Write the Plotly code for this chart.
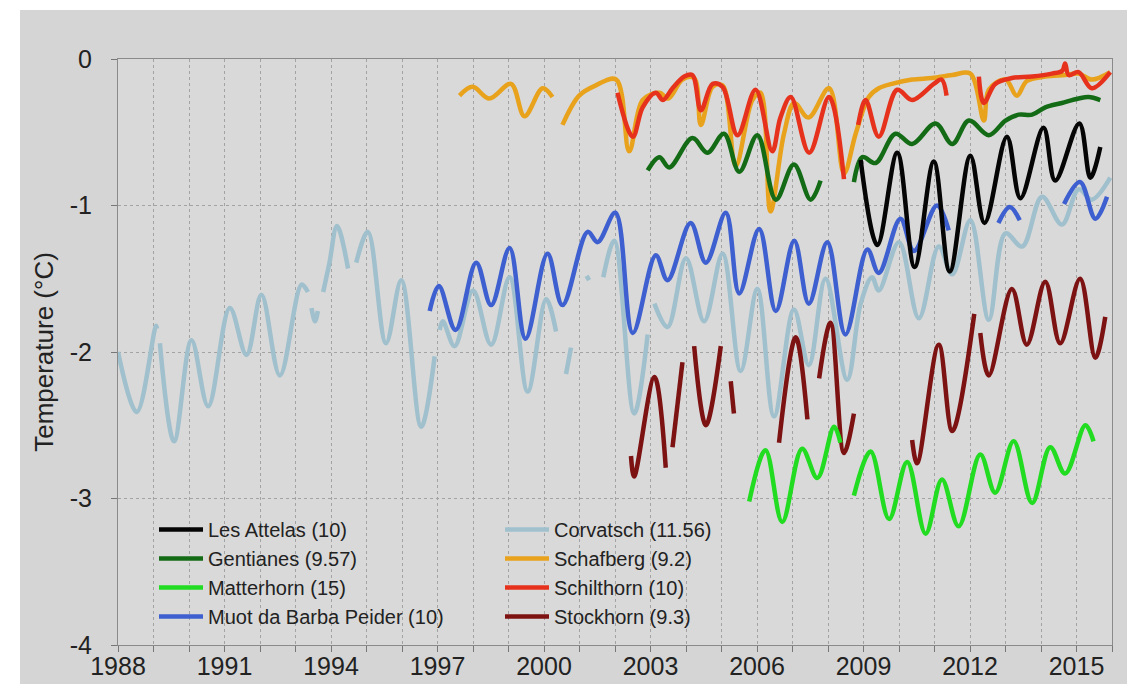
import plotly.graph_objects as go

# ---------------- data (year, temperature °C); None = gap ----------------
corvatsch_x = [1988.0, 1988.53, 1989.07, 1989.1, None,
               1989.18, 1989.58, 1990.07, 1990.54, 1991.15, 1991.62, 1992.04, 1992.56, 1993.17, 1993.35, None,
               1993.45, 1993.55, 1993.63, None,
               1993.78, 1993.95, 1994.17, 1994.48, None,
               1994.71, 1995.04, 1995.55, 1995.98, 1996.54, 1996.92, None,
               1997.06, 1997.15, 1997.48, 1998.0, 1998.51, 1999.03, 1999.54, 2000.06, 2000.34, None,
               2000.62, 2000.76, None,
               2001.2, 2001.27, None,
               2001.67, 2001.98, 2002.54, 2002.92, None,
               2003.11, 2003.48, 2004.0, 2004.51, 2005.03, 2005.54, 2006.01, 2006.48, 2007.04, 2007.46,
               2007.93, 2008.54, 2008.92, 2009.24, 2009.43, 2010.0, 2010.56, 2011.12, 2011.5, 2012.01,
               2012.53, 2013.0, 2013.47, 2014.03, 2014.59, 2015.06, 2015.43, 2015.95]
corvatsch_y = [-2.00, -2.41, -1.82, -1.84, None,
               -1.94, -2.61, -1.92, -2.37, -1.70, -2.02, -1.61, -2.16, -1.54, -1.59, None,
               -1.70, -1.79, -1.72, None,
               -1.59, -1.40, -1.14, -1.43, None,
               -1.39, -1.18, -1.94, -1.51, -2.51, -2.03, None,
               -1.85, -1.79, -1.96, -1.58, -1.95, -1.49, -2.27, -1.64, -1.86, None,
               -2.15, -1.97, None,
               -1.48, -1.51, None,
               -1.49, -1.24, -2.42, -1.88, None,
               -1.67, -1.83, -1.36, -1.79, -1.33, -2.13, -1.57, -2.44, -1.71, -2.09,
               -1.50, -2.19, -1.67, -1.49, -1.58, -1.25, -1.77, -1.28, -1.47, -1.10,
               -1.78, -1.19, -1.28, -0.94, -1.13, -0.89, -0.96, -0.81]

muot_x = [1996.78, 1997.04, 1997.51, 1998.09, 1998.51, 1999.03, 1999.48, 2000.10, 2000.52, 2001.23,
          2001.51, 2002.01, 2002.5, 2003.15, 2003.48, 2004.13, 2004.56, 2005.12, 2005.5, 2006.06,
          2006.53, 2007.05, 2007.46, 2007.98, 2008.49, 2009.11, 2009.43, 2010.04, 2010.42, 2011.07,
          2011.4, None,
          2012.8, 2013.12, 2013.4, None,
          2014.65, 2015.1, 2015.53, 2015.86]
muot_y = [-1.72, -1.55, -1.85, -1.39, -1.68, -1.29, -1.91, -1.33, -1.68, -1.18,
          -1.25, -1.05, -1.87, -1.34, -1.51, -1.12, -1.39, -1.05, -1.60, -1.16,
          -1.72, -1.24, -1.67, -1.25, -1.88, -1.30, -1.46, -1.09, -1.31, -1.00,
          -1.17, None,
          -1.12, -1.01, -1.10, None,
          -0.99, -0.84, -1.09, -0.94]

schafberg_x = [1997.62, 1997.99, 1998.46, 1999.07, 1999.45, 1999.96, 2000.24, None,
               2000.52, 2000.99, 2001.46, 2002.03, 2002.40, 2002.78, 2003.25, 2003.5, 2003.9, 2004.23,
               2004.42, 2004.75, 2005.03, 2005.4, 2005.87, 2006.1, 2006.38, 2006.76, 2007.05, 2007.45,
               2008.03, 2008.45, 2008.78, 2009.15, 2009.43, 2009.8, 2010.37, 2010.93, 2011.5, 2012.01,
               2012.39, 2012.53, 2013.0, 2013.32, 2013.6, 2014.12, 2014.68, 2015.06, 2015.43, 2015.95]
schafberg_y = [-0.25, -0.19, -0.27, -0.17, -0.39, -0.20, -0.26, None,
               -0.45, -0.25, -0.18, -0.14, -0.63, -0.28, -0.23, -0.27, -0.14, -0.13,
               -0.45, -0.19, -0.18, -0.73, -0.28, -0.23, -1.04, -0.51, -0.30, -0.40,
               -0.20, -0.78, -0.51, -0.26, -0.20, -0.17, -0.14, -0.13, -0.11, -0.10,
               -0.42, -0.21, -0.14, -0.25, -0.15, -0.12, -0.11, -0.10, -0.14, -0.09]

schilthorn_x = [2002.07, 2002.50, 2002.78, 2003.15, 2003.35, 2003.62, 2003.95, 2004.18, 2004.42, 2004.75,
                2005.03, 2005.45, 2005.96, 2006.43, 2006.66, 2006.95, 2007.47, 2008.03, 2008.45, None,
                2008.85, 2009.06, 2009.43, 2009.95, 2010.37, 2010.98, 2011.2, 2011.34, None,
                2012.25, 2012.39, 2012.71, 2013.18, 2013.75, 2014.31, 2014.6, 2014.68, 2014.78, 2015.06,
                2015.43, 2015.95]
schilthorn_y = [-0.23, -0.53, -0.33, -0.23, -0.28, -0.20, -0.12, -0.11, -0.35, -0.17,
                -0.19, -0.52, -0.21, -0.63, -0.40, -0.26, -0.64, -0.26, -0.82, None,
                -0.45, -0.28, -0.53, -0.21, -0.28, -0.17, -0.14, -0.25, None,
                -0.12, -0.30, -0.17, -0.13, -0.12, -0.10, -0.08, -0.03, -0.11, -0.09,
                -0.20, -0.09]

gentianes_x = [2002.92, 2003.25, 2003.53, 2004.18, 2004.6, 2005.07, 2005.5, 2006.01, 2006.53, 2007.04,
               2007.51, 2007.79, None,
               2008.73, 2008.97, 2009.34, 2009.9, 2010.37, 2011.03, 2011.5, 2011.97, 2012.53, 2013.0,
               2013.37, 2013.75, 2014.12, 2014.59, 2015.06, 2015.34, 2015.67]
gentianes_y = [-0.76, -0.67, -0.74, -0.54, -0.64, -0.51, -0.77, -0.52, -0.96, -0.72,
               -0.96, -0.83, None,
               -0.84, -0.67, -0.71, -0.51, -0.58, -0.44, -0.58, -0.42, -0.52, -0.42,
               -0.38, -0.38, -0.33, -0.30, -0.27, -0.26, -0.28]

attelas_x = [2008.92, 2009.39, 2009.95, 2010.44, 2010.98, 2011.43, 2012.01, 2012.41, 2013.04, 2013.42,
             2014.07, 2014.4, 2015.08, 2015.39, 2015.67]
attelas_y = [-0.69, -1.27, -0.64, -1.42, -0.70, -1.45, -0.66, -1.12, -0.53, -0.95,
             -0.47, -0.83, -0.44, -0.81, -0.60]

stockhorn_x = [2002.45, 2002.54, 2003.11, 2003.43, None,
               2003.62, 2003.9, None,
               2004.23, 2004.56, 2004.98, None,
               2005.26, 2005.35, None,
               2006.62, 2007.09, 2007.42, None,
               2007.75, 2008.07, 2008.45, 2008.73, None,
               2010.37, 2010.51, 2011.12, 2011.5, 2012.12, None,
               2012.29, 2012.53, 2013.18, 2013.6, 2014.12, 2014.54, 2015.1, 2015.53, 2015.81]
stockhorn_y = [-2.71, -2.85, -2.17, -2.79, None,
               -2.65, -2.07, None,
               -1.96, -2.50, -1.96, None,
               -2.20, -2.42, None,
               -2.62, -1.90, -2.46, None,
               -2.18, -1.80, -2.69, -2.42, None,
               -2.60, -2.76, -1.95, -2.54, -1.74, None,
               -1.87, -2.16, -1.57, -1.95, -1.52, -1.94, -1.50, -2.04, -1.76]

matterhorn_x = [2005.78, 2006.24, 2006.71, 2007.27, 2007.70, 2008.17, 2008.35, None,
                2008.73, 2009.2, 2009.72, 2010.23, 2010.75, 2011.21, 2011.68, 2012.29, 2012.71, 2013.23,
                2013.75, 2014.26, 2014.68, 2015.25, 2015.48]
matterhorn_y = [-3.02, -2.67, -3.16, -2.66, -2.86, -2.51, -2.62, None,
                -2.98, -2.68, -3.14, -2.75, -3.24, -2.87, -3.19, -2.70, -2.96, -2.61,
                -3.03, -2.65, -2.83, -2.50, -2.61]

x_tick_years = [1988, 1991, 1994, 1997, 2000, 2003, 2006, 2009, 2012, 2015]
y_ticks = [-4, -3, -2, -1, 0]

# (name, x, y, colour, legend, rank) -- drawing order
series = [
    ("Corvatsch (11.56)", corvatsch_x, corvatsch_y, "#9fc0cc", "legend2", 1),
    ("Muot da Barba Peider (10)", muot_x, muot_y, "#3d5fcf", "legend", 4),
    ("Schafberg (9.2)", schafberg_x, schafberg_y, "#e8a21c", "legend2", 2),
    ("Schilthorn (10)", schilthorn_x, schilthorn_y, "#e6321c", "legend2", 3),
    ("Gentianes (9.57)", gentianes_x, gentianes_y, "#136b16", "legend", 2),
    ("Les Attelas (10)", attelas_x, attelas_y, "#050505", "legend", 1),
    ("Stockhorn (9.3)", stockhorn_x, stockhorn_y, "#7c1212", "legend2", 4),
    ("Matterhorn (15)", matterhorn_x, matterhorn_y, "#22dc22", "legend", 3),
]

FONT = "Arial, Liberation Sans, Helvetica, sans-serif"

fig = go.Figure()
for name, xs, ys, col, leg, rank in series:
    fig.add_trace(go.Scatter(
        x=xs, y=ys, mode="lines", name=name,
        line=dict(color=col, width=4.5, shape="spline", smoothing=1.0),
        connectgaps=False, legend=leg, legendrank=rank,
    ))

# the page body has an 8 px margin; the figure is sized to fill the rest of the window
OFF = 8
W, H = 1135 - OFF, 684 - OFF
L, R, T, B = 118 - OFF, 23, 59 - OFF, 39
pw, ph = W - L - R, H - T - B


def px(page_x):
    return (page_x - OFF - L) / pw


def py(page_y):
    return 1 - (page_y - OFF - T) / ph


legend_common = dict(
    font=dict(family=FONT, size=20, color="#222222"),
    bgcolor="rgba(0,0,0,0)", borderwidth=0,
    xanchor="left", yanchor="bottom", itemwidth=44, tracegroupgap=0,
)

fig.update_layout(
    width=W, height=H,
    margin=dict(l=L, r=R, t=T, b=B, pad=0, autoexpand=False),
    paper_bgcolor="#d5d5d5",
    plot_bgcolor="#d9d9d9",
    font=dict(family=FONT, color="#222222"),
    showlegend=True,
    legend=dict(x=px(154), y=py(636), **legend_common),
    legend2=dict(x=px(500), y=py(636), **legend_common),
    xaxis=dict(
        range=[1988, 2016], tickmode="array", tickvals=x_tick_years,
        ticktext=[str(v) for v in x_tick_years],
        ticks="outside", ticklen=6, tickcolor="#777777", tickwidth=1,
        tickfont=dict(family=FONT, size=25, color="#222222"),
        ticklabelstandoff=-7,
        automargin=False,
        showgrid=True, gridcolor="#a3a3a3", griddash="dot", gridwidth=1,
        minor=dict(dtick=1, tick0=1988, ticks="outside", ticklen=6, tickcolor="#777777",
                   showgrid=True, gridcolor="#a3a3a3", griddash="dot", gridwidth=1),
        showline=True, linecolor="#8a8a8a", linewidth=1, mirror=True,
        zeroline=False,
    ),
    yaxis=dict(
        range=[-4, 0], tickmode="array", tickvals=y_ticks,
        ticktext=[str(v) for v in y_ticks],
        ticks="outside", ticklen=6, tickcolor="#777777", tickwidth=1,
        tickfont=dict(family=FONT, size=25, color="#222222"),
        ticklabelstandoff=14,
        automargin=False,
        showgrid=True, gridcolor="#a3a3a3", griddash="dot", gridwidth=1,
        showline=True, linecolor="#8a8a8a", linewidth=1, mirror=True,
        zeroline=False,
        title=dict(text="Temperature (°C)", font=dict(family=FONT, size=26, color="#222222"),
                   standoff=8),
    ),
    shapes=[
        dict(type="rect", xref="paper", yref="paper", x0=px(0), x1=px(20), y0=py(700), y1=py(0),
             fillcolor="white", line=dict(width=0), layer="below"),
        dict(type="rect", xref="paper", yref="paper", x0=px(0), x1=px(1200), y0=py(10), y1=py(0),
             fillcolor="white", line=dict(width=0), layer="below"),
    ],
)

fig.write_html("out.html")
